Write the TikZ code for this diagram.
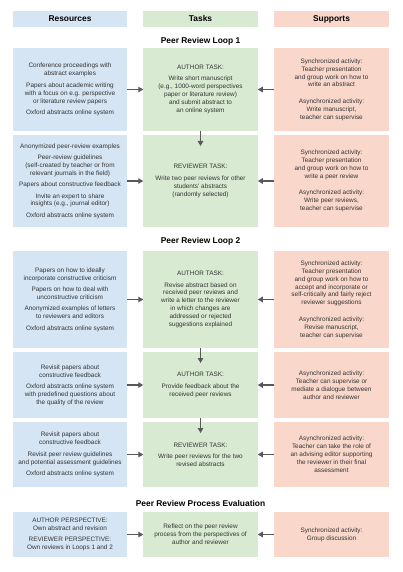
\documentclass[tikz,border=0pt]{standalone}
\usepackage{fontspec}
\setmainfont{Liberation Sans}
\usetikzlibrary{arrows.meta}
\definecolor{resblue}{HTML}{D5E5F4}
\definecolor{taskgreen}{HTML}{D9EAD3}
\definecolor{suporange}{HTML}{F9D8CB}
\definecolor{inkgray}{HTML}{333333}
\definecolor{arrowgray}{HTML}{595959}
\tikzset{
  box/.style={inner sep=0pt, outer sep=0pt, minimum width=114.5pt, align=center,
    text=inkgray, font=\fontsize{6.4}{7.9}\selectfont},
  res/.style={box, fill=resblue},
  task/.style={box, fill=taskgreen},
  sup/.style={box, fill=suporange},
  head/.style={box, minimum height=16pt, text=black, font=\fontsize{8.4}{10}\selectfont\bfseries},
  loop/.style={text=black, font=\fontsize{8.4}{10}\selectfont\bfseries},
  arr/.style={draw=arrowgray, line width=1.3pt, -{Triangle[length=5pt,width=5.5pt]}}
}
\begin{document}
\begin{tikzpicture}[x=1pt,y=-1pt]
			%%%%% START %%%%%
			\useasboundingbox (0, 0) rectangle (402, 572);
			
			\node[head, fill=resblue] (hres) at (70, 19) {Resources};
			\node[head, fill=taskgreen] (htask) at (200.5, 19) {Tasks};
			\node[head, fill=suporange] (hsup) at (331.5, 19) {Supports};
			
			\node[loop] (loopa) at (200.5, 41) {Peer Review Loop 1};
			
			\node[res, minimum height=83pt] (r1) at (70, 89.5) {Conference proceedings with\\abstract examples\\[3.5pt]
				Papers about academic writing\\with a focus on e.g. perspective\\or literature review papers\\[3.5pt]
				Oxford abstracts online system};
			\node[task, minimum height=83pt] (t1) at (200.5, 89.5) {AUTHOR TASK:\\[3.5pt]
				Write short manuscript\\(e.g., 1000-word perspectives\\paper or literature review)\\and submit abstract to\\an online system};
			\node[sup, minimum height=83pt] (s1) at (331.5, 89.5) {Synchronized activity:\\Teacher presentation\\and group work on how to\\write an abstract\\[8.5pt]
				Asynchronized activity:\\Write manuscript,\\teacher can supervise};
			
			\node[res, minimum height=92pt] (r2) at (70, 181) {Anonymized peer-review examples\\[3.5pt]
				Peer-review guidelines\\(self-created by teacher or from\\relevant journals in the field)\\[3.5pt]
				Papers about constructive feedback\\[3.5pt]
				Invite an expert to share\\insights (e.g., journal editor)\\[3.5pt]
				Oxford abstracts online system};
			\node[task, minimum height=92pt] (t2) at (200.5, 181) {REVIEWER TASK:\\[3.5pt]
				Write two peer reviews for other\\students' abstracts\\(randomly selected)};
			\node[sup, minimum height=92pt] (s2) at (331.5, 181) {Synchronized activity:\\Teacher presentation\\and group work on how to\\write a peer review\\[8.5pt]
				Asynchronized activity:\\Write peer reviews,\\teacher can supervise};
			
			\node[loop] (loopb) at (200.5, 241.5) {Peer Review Loop 2};
			
			\node[res, minimum height=97pt] (r3) at (70, 299.5) {Papers on how to ideally\\incorporate constructive criticism\\[3.5pt]
				Papers on how to deal with\\unconstructive criticism\\[3.5pt]
				Anonymized examples of letters\\to reviewers and editors\\[3.5pt]
				Oxford abstracts online system};
			\node[task, minimum height=97pt] (t3) at (200.5, 299.5) {AUTHOR TASK:\\[3.5pt]
				Revise abstract based on\\received peer reviews and\\write a letter to the reviewer\\in which changes are\\addressed or rejected\\suggestions explained};
			\node[sup, minimum height=97pt] (s3) at (331.5, 299.5) {Synchronized activity:\\Teacher presentation\\and group work on how to\\accept and incorporate or\\self-critically and fairly reject\\reviewer suggestions\\[8.5pt]
				Asynchronized activity:\\Revise manuscript,\\teacher can supervise};
			
			\node[res, minimum height=66pt] (r4) at (70, 385) {Revisit papers about\\constructive feedback\\[3.5pt]
				Oxford abstracts online system\\with predefined questions about\\the quality of the review};
			\node[task, minimum height=66pt] (t4) at (200.5, 385) {AUTHOR TASK:\\[3.5pt]
				Provide feedback about the\\received peer reviews};
			\node[sup, minimum height=66pt] (s4) at (331.5, 385) {Asynchronized activity:\\Teacher can supervise or\\mediate a dialogue between\\author and reviewer};
			
			\node[res, minimum height=65pt] (r5) at (70, 454.5) {Revisit papers about\\constructive feedback\\[3.5pt]
				Revisit peer review guidelines\\and potential assessment guidelines\\[3.5pt]
				Oxford abstracts online system};
			\node[task, minimum height=65pt] (t5) at (200.5, 454.5) {REVIEWER TASK:\\[3.5pt]
				Write peer reviews for the two\\revised abstracts};
			\node[sup, minimum height=65pt] (s5) at (331.5, 454.5) {Asynchronized activity:\\Teacher can take the role of\\an advising editor supporting\\the reviewer in their final\\assessment};
			
			\node[loop] (loopc) at (200.5, 503.5) {Peer Review Process Evaluation};
			
			\node[res, minimum height=45pt] (r6) at (70, 534.5) {AUTHOR PERSPECTIVE:\\Own abstract and revision\\[3.5pt]
				REVIEWER PERSPECTIVE:\\Own reviews in Loops 1 and 2};
			\node[task, minimum height=45pt] (t6) at (200.5, 534.5) {Reflect on the peer review\\process from the perspectives of\\author and reviewer};
			\node[sup, minimum height=45pt] (s6) at (331.5, 534.5) {Synchronized activity:\\Group discussion};
			
			\foreach \i in {1,...,6} {
				\draw[arr] (r\i.east) -- (t\i.west);
				\draw[arr] (s\i.west) -- (t\i.east);
			}
			\draw[arr] (t1.south) -- ([yshift=-11pt]t2.north);
			\draw[arr] (t3.south) -- ([yshift=-11pt]t4.north);
			\draw[arr] (t4.south) -- ([yshift=-11pt]t5.north);
			
			%%%%% END %%%%%
\end{tikzpicture}
\end{document}
